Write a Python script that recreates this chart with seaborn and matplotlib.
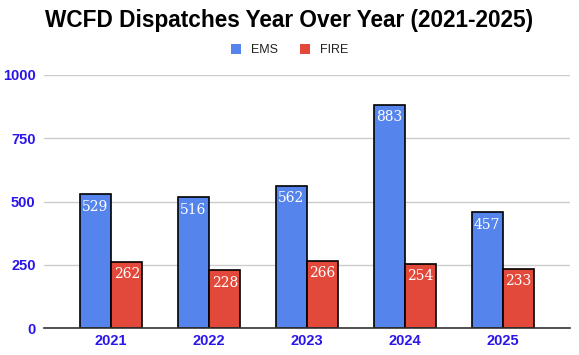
import matplotlib
matplotlib.use("Agg")
import matplotlib.pyplot as plt
import seaborn as sns
import pandas as pd
from matplotlib.patches import Patch

years = ["2021", "2022", "2023", "2024", "2025"]
ems = [529, 516, 562, 883, 457]
fire = [262, 228, 266, 254, 233]
series = ["EMS", "FIRE"]
colors = ["#5585EC", "#E2493B"]
yticks = [0, 250, 500, 750, 1000]

df = pd.DataFrame({
    "year": years * 2,
    "value": ems + fire,
    "series": ["EMS"] * len(years) + ["FIRE"] * len(years),
})

sns.set_theme(style="white")
plt.rcParams["font.family"] = ["Liberation Sans", "DejaVu Sans"]

fig = plt.figure(figsize=(5.79, 3.55), dpi=100)
ax = fig.add_axes([44/579, 1-328/355, (570-44)/579, (328-75)/355])

sns.barplot(data=df, x="year", y="value", hue="series", palette=colors,
            saturation=1, width=0.64, gap=0, edgecolor="black", linewidth=1.2,
            ax=ax, legend=False, zorder=3)

ax.set_ylim(0, 1000)
ax.set_xlim(-0.684, 4.684)
ax.set_yticks(yticks)
ax.set_yticklabels([str(v) for v in yticks])
ax.yaxis.grid(True, color="#cccccc", linewidth=1, zorder=0)
ax.set_xlabel("")
ax.set_ylabel("")
for s in ["top", "right", "left"]:
    ax.spines[s].set_visible(False)
ax.spines["bottom"].set_color("#333333")
ax.spines["bottom"].set_linewidth(1.2)
ax.spines["bottom"].set_zorder(4)
ax.tick_params(axis="both", length=0, pad=6, labelsize=10.5, labelcolor="#2a15ea")
for lab in ax.get_xticklabels() + ax.get_yticklabels():
    lab.set_fontweight("bold")
ax.tick_params(axis="x", pad=4)

for cont in ax.containers:
    ax.bar_label(cont, labels=[f"{int(v)}" for v in cont.datavalues],
                 label_type="edge", padding=-14, color="white",
                 fontsize=10, family=["DejaVu Serif"])

fig.text(0.5, 1-21/355, "WCFD Dispatches Year Over Year (2021-2025)",
         ha="center", va="center", fontsize=16.3, fontweight="bold",
         color="black")

handles = [Patch(facecolor=c, edgecolor="none") for c in colors]
fig.legend(handles, series, loc="center", bbox_to_anchor=(0.5, 1-50/355),
           ncol=2, frameon=False, fontsize=9, handlelength=0.8,
           handleheight=0.9, columnspacing=1.8, handletextpad=0.8,
           labelcolor="#222222")

fig.savefig("out.png", dpi=100)
